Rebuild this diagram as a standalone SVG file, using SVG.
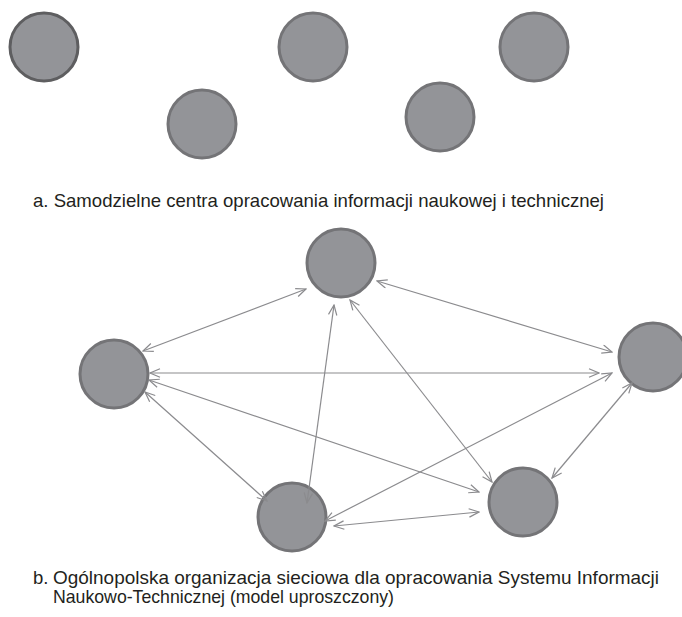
<svg xmlns="http://www.w3.org/2000/svg" width="682" height="617" viewBox="0 0 682 617">
<style>
.n{fill:#939498;stroke:#747477;stroke-width:3}
.n1{fill:#939498;stroke:#5e5e60;stroke-width:3}
.e{stroke:#8b8b8e;stroke-width:1.2;fill:none;marker-start:url(#ah);marker-end:url(#ah)}
.t{font-family:"Liberation Sans",Arial,sans-serif;font-size:18.5px;fill:#231f20}
</style>
<defs>
<marker id="ah" markerUnits="userSpaceOnUse" viewBox="0 0 12 10" refX="11" refY="5" markerWidth="12" markerHeight="10" orient="auto-start-reverse">
<path d="M1,0.8 L11,5 L1,9.2" fill="none" stroke="#8b8b8e" stroke-width="1.2"/>
</marker>
</defs>
<g id="a-nodes">
<g id="a1"><circle class="n1" cx="44" cy="47" r="34"/></g>
<g id="a2"><circle class="n" cx="313" cy="47" r="34"/></g>
<g id="a3"><circle class="n" cx="534" cy="47" r="34"/></g>
<g id="a4"><circle class="n" cx="202" cy="124" r="34"/></g>
<g id="a5"><circle class="n" cx="440" cy="117" r="34"/></g>
</g>
<text class="t" x="33" y="207" textLength="571" lengthAdjust="spacingAndGlyphs">a. Samodzielne centra opracowania informacji naukowej i technicznej</text>
<g id="b-nodes">
<g id="top"><circle class="n" cx="341" cy="263" r="34"/></g>
<g id="left"><circle class="n" cx="114" cy="374" r="34"/></g>
<g id="right"><circle class="n" cx="653" cy="357" r="34"/></g>
<g id="botleft"><circle class="n" cx="292" cy="517" r="34"/></g>
<g id="botright"><circle class="n" cx="523" cy="502" r="34"/></g>
</g>
<g id="connectors">
<line class="e" x1="143" y1="351" x2="306" y2="289"/>
<line class="e" x1="377" y1="281" x2="612" y2="352"/>
<line class="e" x1="150" y1="373" x2="599" y2="373"/>
<line class="e" x1="149" y1="380" x2="479" y2="492"/>
<line class="e" x1="145" y1="392" x2="267" y2="501"/>
<line class="e" x1="307" y1="503" x2="334" y2="305"/>
<line class="e" x1="350" y1="300" x2="492" y2="482"/>
<line class="e" x1="325" y1="521" x2="612" y2="373"/>
<line class="e" x1="334" y1="526" x2="479" y2="512"/>
<line class="e" x1="632" y1="383" x2="552" y2="478"/>
</g>
<text class="t" x="33" y="584">b.</text>
<text class="t" x="53" y="584" textLength="606" lengthAdjust="spacingAndGlyphs">Ogólnopolska organizacja sieciowa dla opracowania Systemu Informacji</text>
<text class="t" x="53" y="603" textLength="341" lengthAdjust="spacingAndGlyphs">Naukowo-Technicznej (model uproszczony)</text>
</svg>
